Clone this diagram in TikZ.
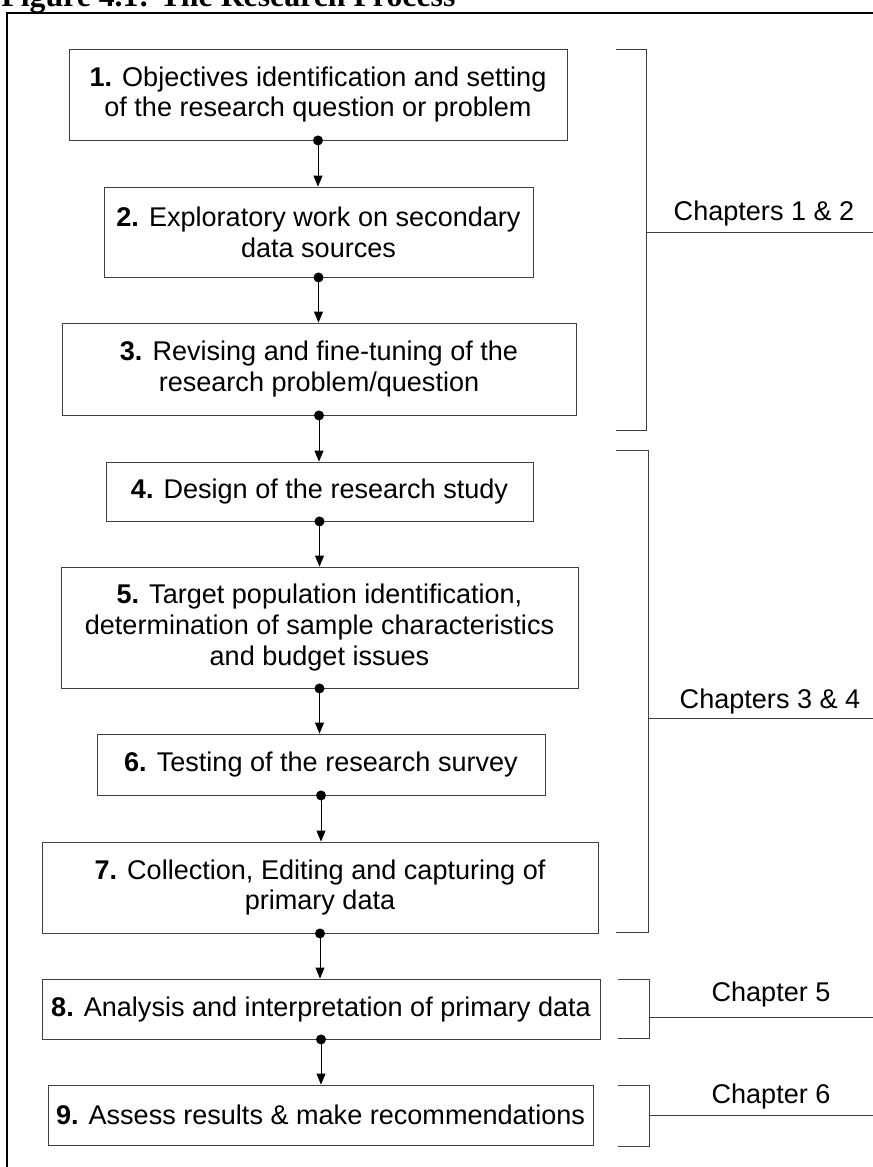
\documentclass[tikz,border=0pt]{standalone}
\usepackage{fontspec}
\setmainfont{Liberation Sans}
\newfontfamily\titlefont{Liberation Serif}
\usetikzlibrary{arrows.meta}

\begin{document}
\begin{tikzpicture}[
    stepbox/.style={draw=black!75, line width=0.5pt, align=center, inner sep=0pt,
        font=\fontsize{15.4}{17.6}\selectfont},
    flow/.style={line width=0.5pt, -{Triangle[length=0.22cm,width=0.18cm]}},
    chapline/.style={line width=0.5pt, draw=black!75},
    chap/.style={anchor=base, font=\fontsize{15.4}{17.6}\selectfont}
]
    \useasboundingbox (0,0) rectangle (17.46,-23.34);
    \clip (0,0) rectangle (17.46,-23.34);

    % title and frame
    \node[anchor=base west, inner sep=0pt, font={\titlefont\bfseries\fontsize{18.1}{20}\selectfont}] (title) at (0.02,-0.12) {Figure 4.1: The Research Process};
    \draw[line width=1.1pt] (0.14,-23.5) -- (0.14,-0.26) -- (17.6,-0.26);

    % steps
    \node[stepbox, minimum width=9.96cm, minimum height=1.82cm] (s1) at (6.36,-1.89) {\textbf{1.} Objectives identification and setting\\of the research question or problem};
    \node[stepbox, minimum width=8.58cm, minimum height=1.80cm] (s2) at (6.37,-4.64) {\textbf{2.} Exploratory work on secondary\\data sources};
    \node[stepbox, minimum width=10.28cm, minimum height=1.84cm] (s3) at (6.38,-7.38) {\textbf{3.} Revising and fine-tuning of the\\research problem/question};
    \node[stepbox, minimum width=8.54cm, minimum height=1.18cm] (s4) at (6.39,-9.83) {\textbf{4.} Design of the research study};
    \node[stepbox, minimum width=10.34cm, minimum height=2.42cm] (s5) at (6.39,-12.55) {\textbf{5.} Target population identification,\\determination of sample characteristics\\and budget issues};
    \node[stepbox, minimum width=8.96cm, minimum height=1.22cm] (s6) at (6.42,-15.29) {\textbf{6.} Testing of the research survey};
    \node[stepbox, minimum width=11.12cm, minimum height=1.82cm] (s7) at (6.40,-17.75) {\textbf{7.} Collection, Editing and capturing of\\primary data};
    \node[stepbox, minimum width=11.16cm, minimum height=1.20cm] (s8) at (6.42,-20.18) {\textbf{8.} Analysis and interpretation of primary data};
    \node[stepbox, minimum width=10.90cm, minimum height=1.20cm] (s9) at (6.41,-22.30) {\textbf{9.} Assess results \& make recommendations};

    \foreach \a/\b in {s1/s2,s2/s3,s3/s4,s4/s5,s5/s6,s6/s7,s7/s8,s8/s9} {
        \fill (\a.south) circle (0.1);
        \draw[flow] (\a.south) -- (\a.south |- \b.north);
    }

    % chapters
    \draw[chapline] (12.32,-0.98) -- (12.92,-0.98) -- (12.92,-8.60) -- (12.32,-8.60);
    \draw[chapline] (12.92,-4.64) -- (17.46,-4.64);
    \node[chap] (ch1) at (15.28,-4.40) {Chapters 1 \& 2};

    \draw[chapline] (12.32,-9.00) -- (12.96,-9.00) -- (12.96,-18.64) -- (12.32,-18.64);
    \draw[chapline] (12.96,-14.36) -- (17.46,-14.36);
    \node[chap] (ch3) at (15.40,-14.16) {Chapters 3 \& 4};

    \draw[chapline] (12.36,-19.58) -- (12.98,-19.58) -- (12.98,-20.76) -- (12.36,-20.76);
    \draw[chapline] (12.98,-20.34) -- (17.46,-20.34);
    \node[chap] (ch5) at (15.42,-20.02) {Chapter 5};

    \draw[chapline] (12.36,-21.70) -- (12.98,-21.70) -- (12.98,-22.92) -- (12.36,-22.92);
    \draw[chapline] (12.98,-22.30) -- (17.46,-22.30);
    \node[chap] (ch6) at (15.42,-22.06) {Chapter 6};
\end{tikzpicture}
\end{document}
